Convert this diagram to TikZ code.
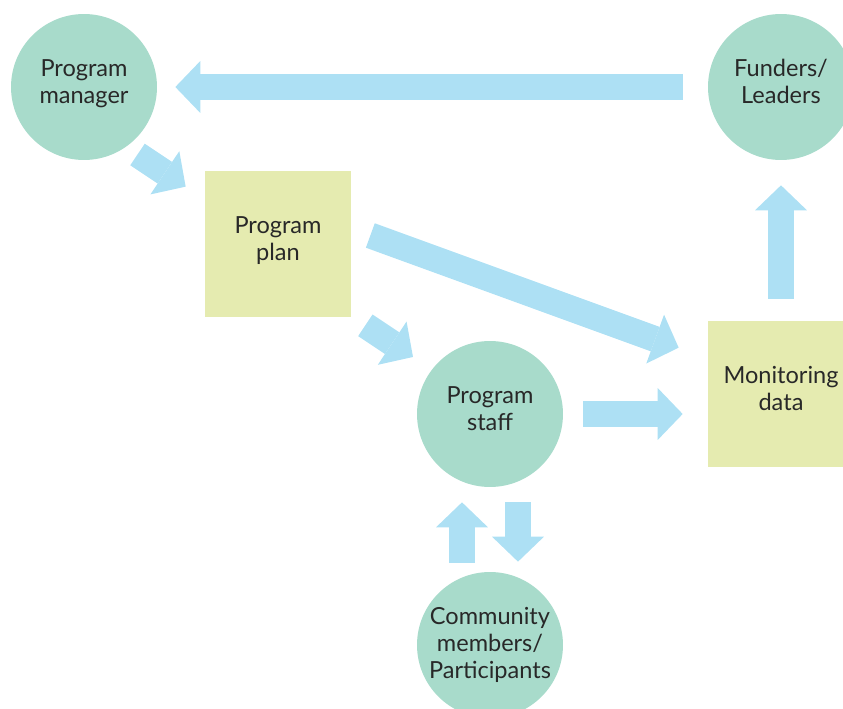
\documentclass[tikz,border=0pt]{standalone}
\usepackage{fontspec}
\setmainfont{Lato}
\usetikzlibrary{arrows.meta,calc}
\definecolor{roundgreen}{RGB}{168,219,203}
\definecolor{boxyellow}{RGB}{229,235,176}
\definecolor{flowblue}{RGB}{173,224,244}
\definecolor{labelgray}{RGB}{40,40,40}
\begin{document}
\begin{tikzpicture}[x=0.02cm,y=-0.02cm,
	actor/.style={circle,fill=roundgreen,inner sep=0pt,minimum size=2.92cm,align=center,text=labelgray,font=\fontsize{13.4}{15.5}\selectfont},
	item/.style={rectangle,fill=boxyellow,inner sep=0pt,minimum size=2.92cm,align=center,text=labelgray,font=\fontsize{13.4}{15.5}\selectfont},
	lift/.style={text depth=0.22cm},
	fat/.style={draw=flowblue,line width=0.52cm,-{Triangle[length=0.5cm,width=1.04cm,line width=0pt]}}]
	\useasboundingbox (0,0) rectangle (843,709);
	\clip (0,0) rectangle (843,709);
	\node[actor,lift](pm) at (84,87){Program\\manager};
	\node[actor,lift](fl) at (781,87){Funders/\\Leaders};
	\node[item,lift](plan) at (278,244){Program\\plan};
	\node[actor,lift](ps) at (490,414){Program\\staff};
	\node[item,lift](md) at (781,394){Monitoring\\data};
	\node[actor](cm) at (490,645){Community\\members/\\Participants};
	\draw[fat,shorten <=0.5cm,shorten >=0.36cm](fl.west)--(pm.east);
	\draw[fat]($(pm)+(53.5,67.5)$)--($(plan.north west)+(-19,16)$);
	\draw[fat]($(plan.south east)+(14,8)$)--($(ps)+(-77,-57)$);
	\draw[fat]($(plan.east)+(19,-8.5)$)--($(md.north west)+(-29,27)$);
	\draw[fat,shorten <=0.4cm,shorten >=0.5cm](ps.east)--(ps.east -| md.west);
	\draw[fat,shorten <=0.44cm,shorten >=0.5cm](md.north)--(fl.south);
	\draw[fat,shorten <=0.18cm,shorten >=0.3cm]($(cm.north)+(-28,0)$)--($(ps.south)+(-28,0)$);
	\draw[fat,shorten <=0.3cm,shorten >=0.2cm]($(ps.south)+(28,0)$)--($(cm.north)+(28,0)$);
\end{tikzpicture}
\end{document}
